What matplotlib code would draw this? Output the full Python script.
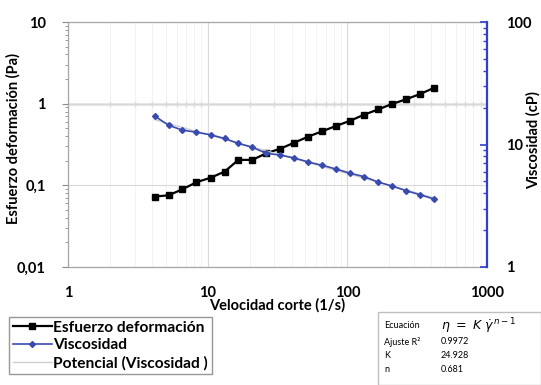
import numpy as np
import matplotlib
matplotlib.use("Agg")
import matplotlib.pyplot as plt
from matplotlib.ticker import LogLocator, NullFormatter, FixedLocator, FixedFormatter
from matplotlib.patches import Rectangle

# ---------------- data ----------------
shear_rate = [4.17, 5.25, 6.6, 8.3, 10.5, 13.2, 16.6, 20.9, 26.3, 33.1, 41.7,
              52.5, 66.0, 83.0, 105.0, 132.0, 166.0, 209.0, 263.0, 331.0, 417.0]
stress = [0.0727, 0.0756, 0.0895, 0.109, 0.124, 0.147, 0.205, 0.205, 0.247, 0.281,
          0.333, 0.395, 0.459, 0.533, 0.619, 0.733, 0.849, 0.991, 1.13, 1.31, 1.56]
viscosity = [17.1, 14.35, 13.1, 12.6, 12.0, 11.2, 10.2, 9.49, 8.47, 8.2, 7.76,
             7.2, 6.76, 6.31, 5.82, 5.46, 4.94, 4.58, 4.20, 3.89, 3.59]
x_ticks = [1, 10, 100, 1000]
x_ticklabels = ["1", "10", "100", "1000"]
yl_ticks = [0.01, 0.1, 1, 10]
yl_ticklabels = ["0,01", "0,1", "1", "10"]
yr_ticks = [1, 10, 100]
yr_ticklabels = ["1", "10", "100"]
legend_labels = ["Esfuerzo deformación", "Viscosidad", "Potencial (Viscosidad )"]
eq_rows = ["Ecuación", "Ajuste R²", "K", "n"]
eq_vals = [r"$\eta\ =\ K\ \dot{\gamma}^{\,n-1}$", "0.9972", "24.928", "0.681"]

plt.rcParams['font.family'] = ['Lato', 'DejaVu Sans']

W, H = 541, 385
fig = plt.figure(figsize=(W / 100, H / 100), dpi=100)
ax = fig.add_axes([68 / W, 1 - 267 / H, (487 - 68) / W, (267 - 22) / H])

blue = "#3a4bb0"
axis_blue = "#2f3fd0"
grid_c = "#d9d9d9"

ax.set_xscale("log")
ax.set_yscale("log")
ax.set_xlim(1, 1000)
ax.set_ylim(0.01, 10)

ax.grid(True, which="major", color=grid_c, lw=0.8, zorder=0)
ax.grid(True, which="minor", axis="x", color="#f1f1f1", lw=0.6, zorder=0)
ax.axhline(1, color="#9a9a9a", lw=0.9, zorder=1)

# secondary axis line at y = 1 (Excel axis crossing)
sec = ax.secondary_xaxis(2 / 3)
sec.spines["bottom"].set_visible(False)
sec.xaxis.set_major_locator(FixedLocator(x_ticks))
sec.xaxis.set_major_formatter(NullFormatter())
sec.xaxis.set_minor_locator(LogLocator(base=10, subs=np.arange(2, 10)))
sec.xaxis.set_minor_formatter(NullFormatter())
sec.tick_params(which="both", direction="inout", color="#8a8a8a", length=5, width=0.8)
sec.tick_params(which="major", length=0)

ax.xaxis.set_major_locator(FixedLocator(x_ticks))
ax.xaxis.set_major_formatter(FixedFormatter(x_ticklabels))
ax.xaxis.set_minor_locator(LogLocator(base=10, subs=np.arange(2, 10)))
ax.xaxis.set_minor_formatter(NullFormatter())
ax.tick_params(axis="x", which="both", length=0, pad=14)

ax.yaxis.set_major_locator(FixedLocator(yl_ticks))
ax.yaxis.set_major_formatter(FixedFormatter(yl_ticklabels))
ax.yaxis.set_minor_locator(LogLocator(base=10, subs=np.arange(2, 10)))
ax.yaxis.set_minor_formatter(NullFormatter())
ax.tick_params(axis="y", which="major", direction="out", length=4, color="#8a8a8a", pad=12)
ax.tick_params(axis="y", which="minor", direction="out", length=2.5, color="#8a8a8a")

for lab in ax.get_xticklabels() + ax.get_yticklabels():
    lab.set_fontweight("bold")
    lab.set_fontsize(10.5)

for s in ["top", "bottom", "left"]:
    ax.spines[s].set_color("#a6a6a6")
    ax.spines[s].set_linewidth(0.9)
ax.spines["right"].set_visible(False)

l1, = ax.plot(shear_rate, stress, color="black", lw=1.6, marker="s", ms=4.5, zorder=4)

ax.set_xlabel("Velocidad corte (1/s)", fontsize=10.5, fontweight="bold", labelpad=-2)
ax.set_ylabel("Esfuerzo deformación (Pa)", fontsize=10.5, fontweight="bold")
ax.yaxis.set_label_coords((21 - 68) / 419, (267 - 138) / 245)

# right axis
ax2 = ax.twinx()
ax2.set_yscale("log")
ax2.set_ylim(1, 100)
for s in ["top", "bottom", "left"]:
    ax2.spines[s].set_visible(False)
ax2.spines["right"].set_color(axis_blue)
ax2.spines["right"].set_linewidth(1.6)
ax2.yaxis.set_major_locator(FixedLocator(yr_ticks))
ax2.yaxis.set_major_formatter(FixedFormatter(yr_ticklabels))
ax2.yaxis.set_minor_locator(LogLocator(base=10, subs=np.arange(2, 10)))
ax2.yaxis.set_minor_formatter(NullFormatter())
ax2.tick_params(axis="y", which="major", direction="in", length=5, color=axis_blue, width=1.2, pad=14)
ax2.tick_params(axis="y", which="minor", direction="in", length=3, color=axis_blue, width=1.0)
for lab in ax2.get_yticklabels():
    lab.set_fontweight("bold")
    lab.set_fontsize(10.5)

# power-law trendline from least-squares fit on logs
lx = np.log10(shear_rate)
lv = np.log10(viscosity)
slope, inter = np.polyfit(lx, lv, 1)
fit_x = np.array([shear_rate[0], shear_rate[-1]])
fit_y = 10 ** (inter + slope * np.log10(fit_x))
l3, = ax2.plot(fit_x, fit_y, color="#d0d0d0", lw=1.0, zorder=2)
l2, = ax2.plot(shear_rate, viscosity, color=blue, lw=1.2, marker="D", ms=3, zorder=3)
ax2.set_ylabel("Viscosidad (cP)", fontsize=10.5, fontweight="bold", rotation=90)
ax2.yaxis.set_label_coords((526 - 68) / 419, (267 - 140) / 245)

# legend
leg = fig.legend([l1, l2, l3], legend_labels, loc="upper left",
                 bbox_to_anchor=(9 / W, 1 - 317 / H), frameon=True, fancybox=False,
                 edgecolor="#7f7f7f", fontsize=11.2, handlelength=2.5,
                 handletextpad=0.1, labelspacing=0.22, borderpad=0.25,
                 borderaxespad=0)
leg.get_frame().set_linewidth(1.0)
for t in leg.get_texts():
    t.set_fontweight("bold")

# equation box
fig.patches.append(Rectangle((378 / W, 0), (W - 378) / W, (H - 312) / H,
                             transform=fig.transFigure, facecolor="white",
                             edgecolor="#bfbfbf", lw=1.0))
row_y = [326, 342, 356, 369]
for r, v, yy in zip(eq_rows, eq_vals, row_y):
    fig.text(384 / W, 1 - yy / H, r, fontsize=6.5, va="center", ha="left")
    fig.text(441 / W, 1 - yy / H, v, fontsize=6.5 if not v.startswith("$") else 9,
             va="center", ha="left")

fig.savefig("out.png", dpi=100, facecolor="white")
